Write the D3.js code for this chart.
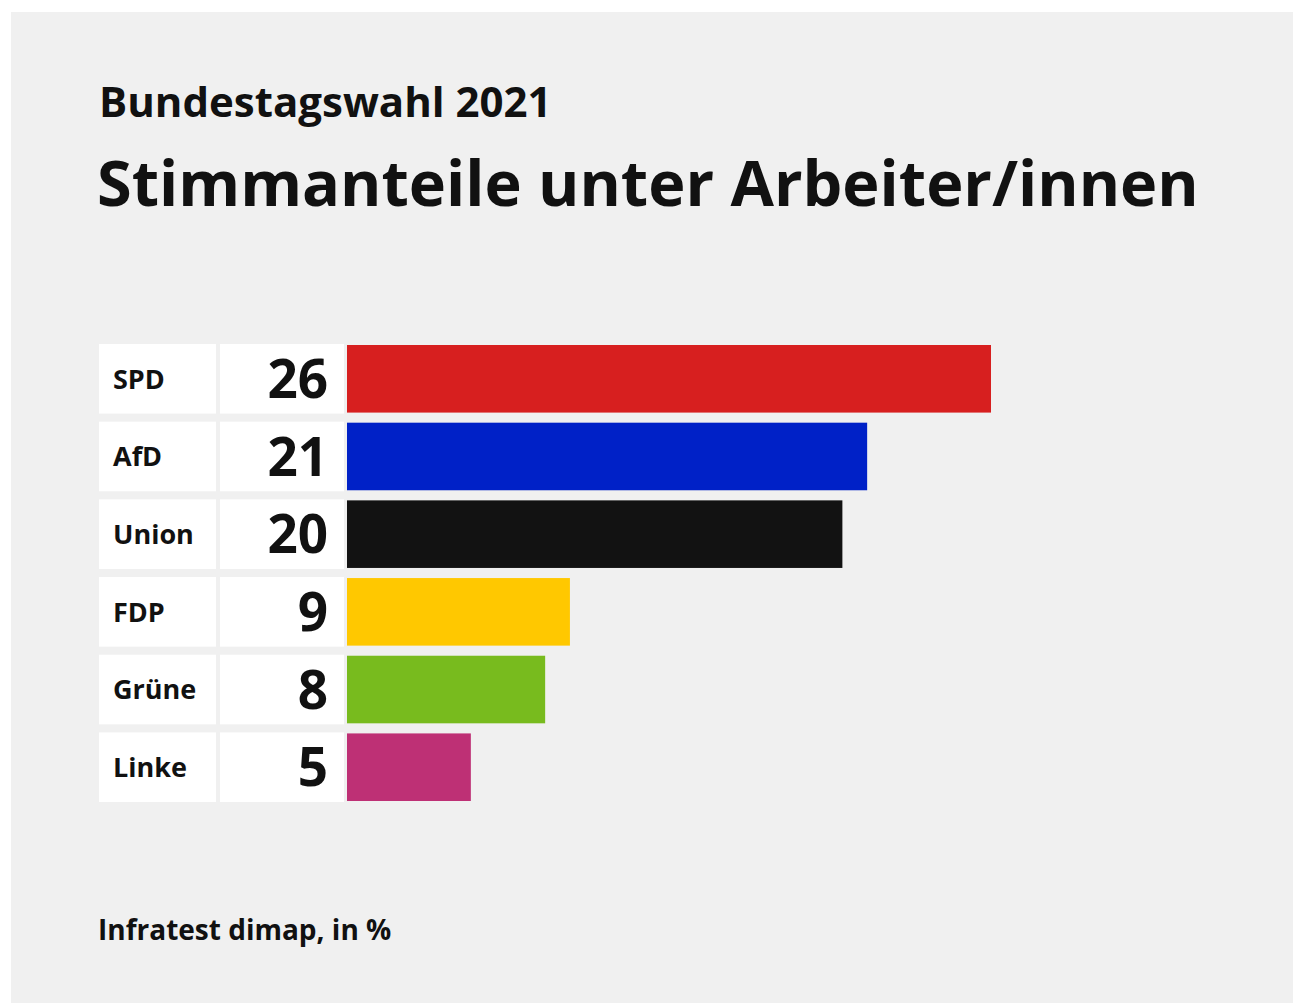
<!DOCTYPE html>
<html lang="de">

<head>
    <meta charset="UTF-8">
    <title>Bundestagswahl 2021</title>
    <script src="https://d3js.org/d3.v7.min.js"></script>
    <style>
        body,
        html {
            margin: 0px;
            background: #fff;
        }

        svg text {
            font-family: "Open Sans", "Noto Sans", sans-serif;
            fill: #111;
        }
    </style>
</head>

<body>
    <div id="chart"></div>

    <script>
        const parties = ["SPD", "AfD", "Union", "FDP", "Grüne", "Linke"]
        const shares = [26, 21, 20, 9, 8, 5]
        const partyColors = ["#d71f1f", "#0021c7", "#121212", "#ffc800", "#78bb1e", "#be3075"]

        const width = 1296
        const height = 1003

        const svg = d3.select("#chart")
            .append("svg")
            .attr("width", width)
            .attr("height", height)

        // grey card
        svg.append("rect")
            .attr("x", 11)
            .attr("y", 12)
            .attr("width", 1282)
            .attr("height", height - 12)
            .attr("fill", "#f0f0f0")

        svg.append("text")
            .attr("x", 99)
            .attr("y", 117)
            .style("font-size", "42px")
            .style("font-weight", 700)
            .text("Bundestagswahl 2021")

        svg.append("text")
            .attr("x", 97)
            .attr("y", 206)
            .style("font-size", "63px")
            .style("font-weight", 700)
            .text("Stimmanteile unter Arbeiter/innen")

        const rows = parties.map((p, i) => ({ party: p, value: shares[i], color: partyColors[i] }))

        const x = d3.scaleLinear()
            .domain([0, 26])
            .range([347, 991])

        const y = d3.scaleBand()
            .domain(parties)
            .range([345, 801])
            .paddingInner(0.13)

        const row = svg.append("g")
            .selectAll("g")
            .data(rows)
            .join("g")

        // label cell
        row.append("rect")
            .attr("x", 99)
            .attr("y", d => y(d.party) - 1)
            .attr("width", 117)
            .attr("height", y.bandwidth() + 2)
            .attr("fill", "#fff")

        // value cell
        row.append("rect")
            .attr("x", 220)
            .attr("y", d => y(d.party) - 1)
            .attr("width", 124)
            .attr("height", y.bandwidth() + 2)
            .attr("fill", "#fff")

        row.append("rect")
            .attr("x", x(0))
            .attr("y", d => y(d.party))
            .attr("width", d => x(d.value) - x(0))
            .attr("height", y.bandwidth())
            .attr("fill", d => d.color)

        row.append("text")
            .attr("x", 113)
            .attr("y", d => y(d.party) + y.bandwidth() / 2)
            .attr("dy", "0.36em")
            .style("font-size", "27px")
            .style("font-weight", 700)
            .text(d => d.party)

        row.append("text")
            .attr("x", 328)
            .attr("y", d => y(d.party) + y.bandwidth() / 2)
            .attr("dy", "0.36em")
            .attr("text-anchor", "end")
            .style("font-size", "53px")
            .style("font-weight", 700)
            .text(d => d.value)

        svg.append("text")
            .attr("x", 98)
            .attr("y", 940)
            .style("font-size", "28px")
            .style("font-weight", 700)
            .text("Infratest dimap, in %")
    </script>
</body>

</html>
